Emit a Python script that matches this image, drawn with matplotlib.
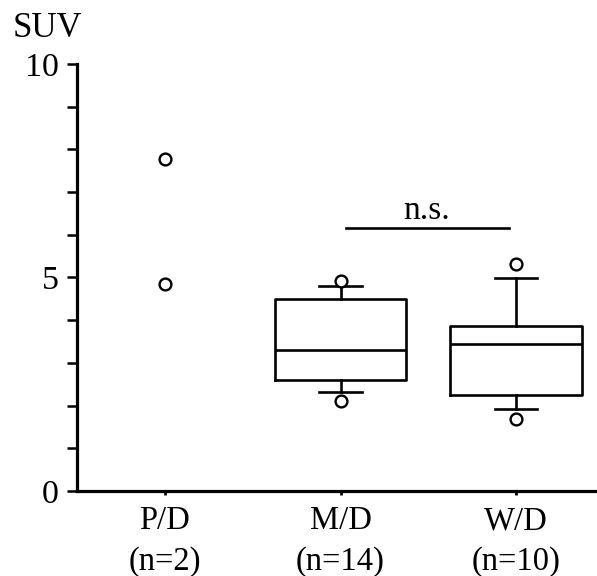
import numpy as np
import matplotlib
matplotlib.use('Agg')
import matplotlib.pyplot as plt

plt.rcParams['font.family'] = ['Liberation Serif', 'DejaVu Serif']

#values
groups = ['P/D\n(n=2)', 'M/D\n(n=14)', 'W/D\n(n=10)']
pd_values = [7.77, 4.85]
md_stats = {'q1': 2.59, 'med': 3.31, 'q3': 4.50, 'whislo': 2.31, 'whishi': 4.81,
            'fliers': [4.91, 2.10]}
wd_stats = {'q1': 2.24, 'med': 3.44, 'q3': 3.86, 'whislo': 1.92, 'whishi': 4.98,
            'fliers': [5.31, 1.69]}
ns_label = 'n.s.'
ns_level = 6.17

fig = plt.figure(figsize=(5.97, 5.76), dpi=100)
ax = fig.add_axes([0.129, 0.1476, 0.871, 0.7413])

lw = 1.9
flier_style = dict(marker='o', markerfacecolor='white', markeredgecolor='black',
                   markersize=8.5, markeredgewidth=1.7, linestyle='none')

#P/D only has two points
ax.plot([1] * len(pd_values), pd_values, **flier_style)

ax.bxp([md_stats, wd_stats], positions=[2, 3], widths=0.75, showfliers=True,
       boxprops=dict(color='black', linewidth=lw),
       medianprops=dict(color='black', linewidth=lw),
       whiskerprops=dict(color='black', linewidth=lw),
       capprops=dict(color='black', linewidth=lw),
       capwidths=0.24,
       flierprops=flier_style)

#significance bar
ax.plot([2.03, 2.96], [ns_level, ns_level], color='black', linewidth=lw)
ax.text(2.49, ns_level + 0.2, ns_label, ha='center', va='baseline', fontsize=24)

ax.set_xlim(0.5, 3.46)
ax.set_ylim(0, 10)
ax.set_yticks([0, 5, 10])
ax.set_yticklabels(['0', '5', '10'], fontsize=24.5)
ax.set_yticks(np.arange(0, 11, 1), minor=True)
ax.tick_params(axis='y', which='both', length=7, width=1.8, pad=6)
ax.set_xticks([1, 2, 3])
ax.set_xticklabels(groups, fontsize=23.5, linespacing=1.45)
ax.tick_params(axis='x', length=3, width=2, pad=7.5)

for side in ['top', 'right']:
    ax.spines[side].set_visible(False)
ax.spines['left'].set_linewidth(2.3)
ax.spines['bottom'].set_linewidth(2.3)

fig.text(13 / 597, 1 - 37 / 576, 'SUV', fontsize=25, ha='left', va='baseline')

fig.savefig('out.png', dpi=100)
